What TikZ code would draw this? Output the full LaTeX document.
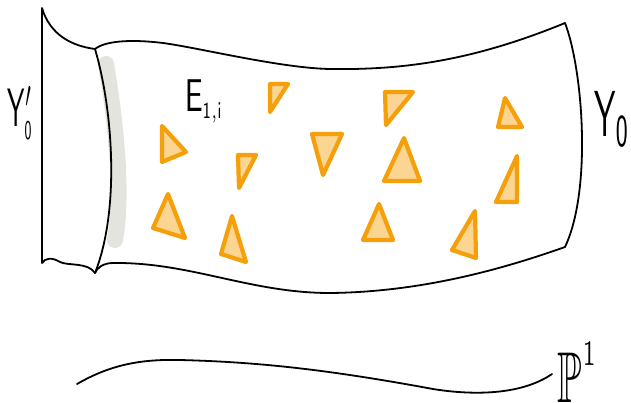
\documentclass[tikz,border=0pt]{standalone}
\usepackage{amsmath}
\usepackage{amssymb}
\usepackage{tikz}

\definecolor{tribord}{RGB}{245,160,10}
\definecolor{trifill}{RGB}{251,213,145}
\definecolor{foldgray}{RGB}{228,228,222}

\begin{document}
\begin{tikzpicture}[
  x=1pt, y=-1pt,
  edge/.style={line width=1.8pt, line cap=round, line join=round},
  tri/.style={draw=tribord, fill=trifill, line width=4.2pt, line join=round},
  lab/.style={inner sep=0pt, anchor=center}
]
\useasboundingbox (0,0) rectangle (631,402);
\draw[edge] (95,49) .. controls (72,46) and (50,35) .. (42,8) -- (42,263) .. controls (45,258) and (52,257) .. (60,262) .. controls (68,266) and (88,262) .. (95,273);
\draw[foldgray, line width=16pt, line cap=round] (106,64) .. controls (114,110) and (124,190) .. (115,240);
\draw[edge] (95,49) .. controls (113,110) and (120,210) .. (95,273);
\draw[edge] (95,49) .. controls (105,41) and (130,39) .. (163,43) .. controls (200,48) and (280,68) .. (330,69) .. controls (400,70) and (470,62) .. (565,23) .. controls (583,70) and (592,190) .. (565,247) .. controls (500,270) and (420,292) .. (330,293) .. controls (250,293) and (190,262) .. (113,263) .. controls (103,263) and (97,268) .. (95,273);
\draw[tri] (162,126) -- (186,152) -- (162,162) -- cycle;
\draw[tri] (270,84) -- (288,84) -- (270,112) -- cycle;
\draw[tri] (238,155) -- (256,155) -- (239,188) -- cycle;
\draw[tri] (312,134) -- (342,134) -- (323,175) -- cycle;
\draw[tri] (168,194) -- (185,238) -- (153,228) -- cycle;
\draw[tri] (232,216) -- (246,262) -- (221,254) -- cycle;
\draw[tri] (379,204) -- (393,240) -- (363,240) -- cycle;
\draw[tri] (385,92) -- (413,92) -- (386,125) -- cycle;
\draw[tri] (404,138) -- (420,181) -- (384,181) -- cycle;
\draw[tri] (505,98) -- (522,127) -- (498,127) -- cycle;
\draw[tri] (517,156) -- (517,202) -- (496,202) -- cycle;
\draw[tri] (475,211) -- (476,258) -- (452,250) -- cycle;
\node[lab] (yleft) at (20,113) {\scalebox{2.6}[5.4]{$\mathsf{Y}'_{\scriptscriptstyle\mathsf{0}}$}};
\node[lab] (yright) at (612,119) {\scalebox{3.2}[6.5]{$\mathsf{Y}_{\scriptstyle\mathsf{0}}$}};
\node[lab] (eli) at (204,101) {\scalebox{3}[4.6]{$\mathsf{E}_{\scriptscriptstyle\mathsf{1,i}}$}};
\node[lab] (pone) at (578,372) {\scalebox{4}[7.2]{$\mathbb{P}^{\raisebox{1.5pt}{$\scriptscriptstyle 1$}}$}};
\draw[edge] (77,384) .. controls (110,365) and (140,359) .. (180,360) .. controls (260,362) and (330,370) .. (433,389) .. controls (470,395) and (520,396) .. (552,374);
\end{tikzpicture}
\end{document}
